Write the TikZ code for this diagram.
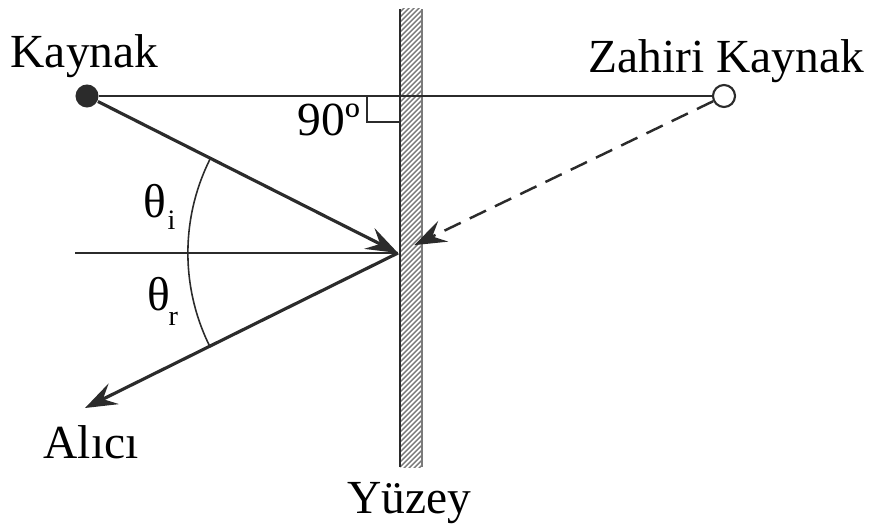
\documentclass[tikz,border=0pt]{standalone}
\usepackage{fontspec}
\setmainfont{Liberation Serif}
\usetikzlibrary{arrows.meta,calc}
\definecolor{inkBlack}{HTML}{2B2B2B}
\definecolor{hatchGray}{HTML}{7A7A7A}
\tikzset{
    srcdot/.style={circle,fill=inkBlack,inner sep=0pt,minimum size=0.23cm},
    imgdot/.style={circle,draw=inkBlack,line width=0.6pt,fill=white,
        inner sep=0pt,minimum size=0.22cm},
    ray/.style={-{Stealth[length=3.2mm,width=2.3mm,inset=1.2mm]},
        draw=inkBlack,line width=0.9pt},
    virtray/.style={ray,dash pattern=on 1.8mm off 1.0mm,line width=0.7pt},
    guide/.style={draw=inkBlack,line width=0.6pt},
    hatch/.style={draw=hatchGray,line width=0.4pt},
    word/.style={font=\fontsize{13.5}{16}\selectfont,inner sep=0pt,text=black},
    sub/.style={font=\fontsize{8}{9}\selectfont,inner sep=0pt,text=black}
}

\begin{document}
\begin{tikzpicture}[x=0.01cm,y=0.01cm]
    \useasboundingbox (0,0) rectangle (871,527);

    % wall
    \begin{scope}
        \clip (400,60) rectangle (422,518);
        \foreach \k in {-25,-20,...,465}
            \draw[hatch] (400,60+\k) -- (422,82+\k);
    \end{scope}
    \draw[hatch,line width=0.3pt] (422,60) -- (422,518);
    \draw[guide] (400,60) -- (400,518);

    \node[srcdot] (src) at (87,431) {};
    \node[imgdot] (virt) at (724,431) {};
    \coordinate (hit) at (398,274);
    \coordinate (nrm) at (75,274);
    \coordinate (rx) at (85,119);
    \coordinate (vtip) at ($(virt.center)!0.95!(hit)$);

    \draw[guide] (src) -- (virt);
    \draw[guide] (400,405) -- (367,405) -- (367,431);
    \draw[guide] (nrm) -- (hit);
    \draw[guide,line width=0.45pt] ($(hit)+(153.2:2.1cm)$)
        arc[start angle=153.2,end angle=206.3,radius=2.1cm];

    \draw[ray] (src) -- (hit);
    \draw[ray] (hit) -- (rx);
    \draw[virtray] (virt) -- (vtip);

    \node[word,anchor=base west] (srcname) at (10,459) {Kaynak};
    \node[word,anchor=base west] (virtname) at (588,454) {Zahiri Kaynak};
    \node[word,anchor=base west] (rightangle) at (297,392) {90º};
    \node[word,anchor=base west] (thetai) at (143,310) {θ};
    \node[sub,anchor=base west] (thetaisub) at (167,298) {i};
    \node[word,anchor=base west] (thetar) at (147,217) {θ};
    \node[sub,anchor=base west] (thetarsub) at (168,202) {r};
    \node[word,anchor=base west] (rxname) at (43,69) {Alıcı};
    \node[word,anchor=base west] (wallname) at (347,14) {Yüzey};
\end{tikzpicture}
\end{document}
